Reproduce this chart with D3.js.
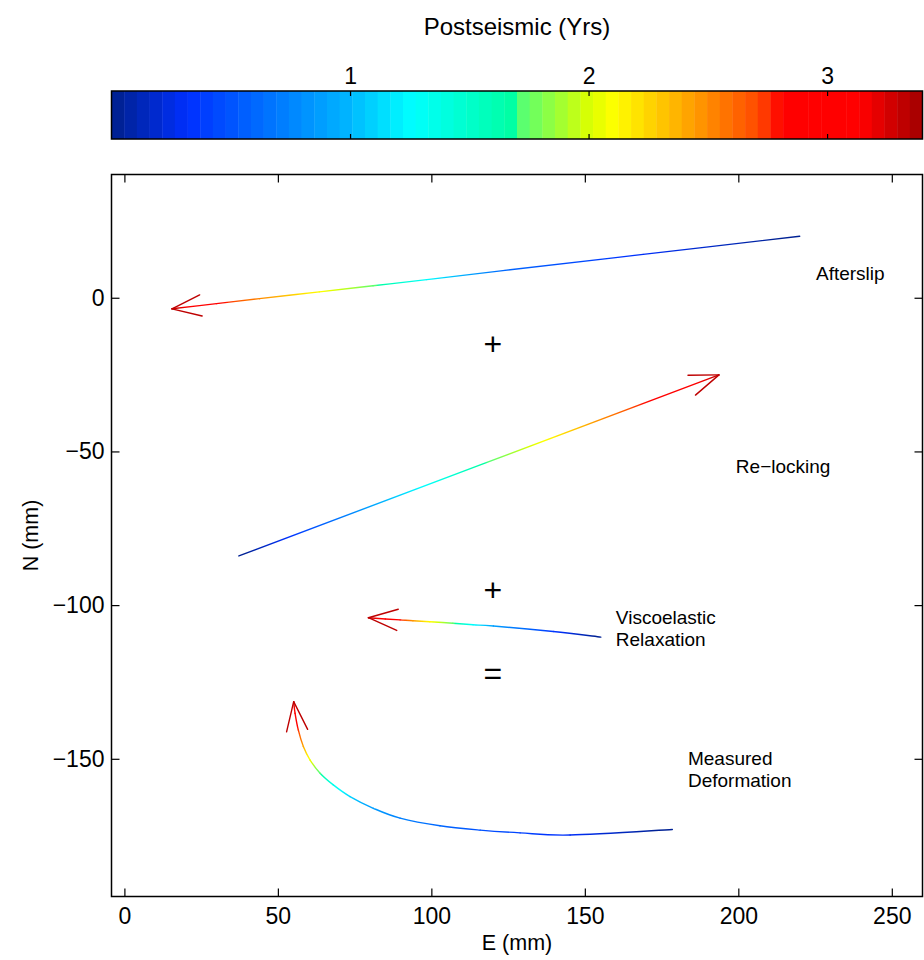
<!DOCTYPE html>
<html>
<head>
<meta charset="utf-8">
<script src="https://cdn.jsdelivr.net/npm/d3@7"></script>
<style>
  body { margin: 0; background: #fff; }
  text { font-family: "Liberation Sans", Arial, Helvetica, sans-serif; fill: #000; }
</style>
</head>
<body>
<div id="chart"></div>
<script>
// ---- data ----
const xTicks = [0, 50, 100, 150, 200, 250];
const yTicks = [0, -50, -100, -150];
const cbTicks = [1, 2, 3];

// each series: east (mm), north (mm), postseismic time (yrs)
const afterslipE = [220, 169, 124, 98.5, 81, 63.5, 44, 30, 15.5];
const afterslipN = [20, 14.1, 8.9, 5.9, 3.9, 1.9, -0.3, -1.9, -3.6];
const afterslipT = [0, 0.3, 0.6, 1.25, 1.75, 2.1, 2.5, 2.85, 3.3];

const relockE = [37.3, 193.7];
const relockN = [-84, -25.1];
const relockT = [0, 3.3];

const viscoE = [155.2, 139.7, 120.2, 113.6, 107, 99.5, 94, 89.8, 85, 79.5];
const viscoN = [-110.4, -108.6, -106.8, -106.4, -105.9, -105.4, -105.1, -104.8, -104.5, -104.1];
const viscoT = [0, 0.35, 0.9, 1.25, 1.75, 2.1, 2.45, 2.8, 3.05, 3.3];

const measuredE = [178.5, 145.2, 128.9, 115.9, 102.8, 89.8, 81.1, 73.5, 68.05, 63.75, 60.5, 58.3, 56.65, 55.6, 55.15];
const measuredN = [-173.0, -174.8, -174.1, -173.2, -171.8, -169.3, -166.1, -162.3, -158.5, -154.7, -150.4, -146.0, -140.6, -135.2, -131.4];
const measuredT = [0, 0.3, 0.4, 0.5, 0.6, 0.72, 0.85, 1.1, 1.35, 1.7, 2.05, 2.4, 2.75, 3.05, 3.3];

const noteLabels = [["Afterslip"], ["Re\u2212locking"], ["Viscoelastic", "Relaxation"], ["Measured", "Deformation"]];
const noteE = [225.3, 199.2, 160.1, 183.6];
const noteN = [8.1, -54.7, -107.4, -153.2];

const opLabels = ["+", "+", "="];
const opE = [120, 120, 120];
const opN = [-15, -95, -122];

const series = [
  { E: afterslipE, N: afterslipN, T: afterslipT },
  { E: relockE, N: relockN, T: relockT },
  { E: viscoE, N: viscoN, T: viscoT },
  { E: measuredE, N: measuredN, T: measuredT }
];

// jet-like colormap as seen on the colour bar
const cmapStops = [
  [0.000, "#00208c"], [0.095, "#0030ff"], [0.29, "#00b4ff"], [0.37, "#00ffff"],
  [0.499, "#00ffa0"], [0.501, "#50ff78"], [0.59, "#dcff00"], [0.62, "#ffff00"],
  [0.70, "#ffb000"], [0.80, "#ff4600"], [0.826, "#ff0000"], [0.925, "#ff0000"],
  [1.0, "#a00000"]
];

const width = 924, height = 960;
const svg = d3.select("#chart").append("svg")
  .attr("width", width).attr("height", height);

const x = d3.scaleLinear().domain([-4.2, 260]).range([111.5, 922.5]);
const y = d3.scaleLinear().domain([40.1, -194.8]).range([174.5, 896.5]);
const cb = d3.scaleLinear().domain([0, 3.4]).range([111.5, 922.5]);

const stopScale = d3.scaleLinear()
  .domain(cmapStops.map(d => d[0]))
  .range(cmapStops.map(d => d[1]))
  .interpolate(d3.interpolateRgb);
const nColors = 64;
const cells = d3.range(nColors).map(i => stopScale((i + 0.5) / nColors));
const colorOf = t => cells[Math.max(0, Math.min(nColors - 1, Math.floor(t / 3.4 * nColors)))];

// ---- title + colour bar ----
svg.append("text")
  .attr("x", 517).attr("y", 26)
  .attr("text-anchor", "middle").attr("dominant-baseline", "central")
  .style("font-size", "24px")
  .text("Postseismic (Yrs)");

const cbTop = 91, cbBot = 139;
svg.append("g").selectAll("rect")
  .data(d3.range(nColors))
  .enter().append("rect")
  .attr("x", i => cb(i * 3.4 / nColors))
  .attr("y", cbTop)
  .attr("width", i => cb((i + 1) * 3.4 / nColors) - cb(i * 3.4 / nColors) + 0.4)
  .attr("height", cbBot - cbTop)
  .attr("fill", i => cells[i]);

const cbAxisTop = svg.append("g")
  .attr("transform", `translate(0,${cbTop})`)
  .call(d3.axisTop(cb).tickValues(cbTicks).tickFormat(d3.format("d"))
    .tickSizeInner(-5).tickSizeOuter(0).tickPadding(7.5));
const cbAxisBot = svg.append("g")
  .attr("transform", `translate(0,${cbBot})`)
  .call(d3.axisBottom(cb).tickValues(cbTicks).tickFormat("").tickSizeInner(-5).tickSizeOuter(0));
[cbAxisTop, cbAxisBot].forEach(g => {
  g.select(".domain").remove();
  g.selectAll("line").attr("stroke", "#000").attr("stroke-width", 1.2);
  g.selectAll("text").style("font-size", "23px").attr("fill", "#000").style("font-family", null);
});

svg.append("rect")
  .attr("x", 111.5).attr("y", cbTop)
  .attr("width", 811).attr("height", cbBot - cbTop)
  .attr("fill", "none").attr("stroke", "#000").attr("stroke-width", 1.5);

// ---- main axes ----
const gx = svg.append("g")
  .attr("transform", "translate(0,896.5)")
  .call(d3.axisBottom(x).tickValues(xTicks).tickSizeInner(-8).tickSizeOuter(0).tickPadding(11));
const gxTop = svg.append("g")
  .attr("transform", "translate(0,174.5)")
  .call(d3.axisTop(x).tickValues(xTicks).tickFormat("").tickSizeInner(-8).tickSizeOuter(0));
const gy = svg.append("g")
  .attr("transform", "translate(111.5,0)")
  .call(d3.axisLeft(y).tickValues(yTicks).tickSizeInner(-8).tickSizeOuter(0).tickPadding(7));
const gyRight = svg.append("g")
  .attr("transform", "translate(922.5,0)")
  .call(d3.axisRight(y).tickValues(yTicks).tickFormat("").tickSizeInner(-8).tickSizeOuter(0));
[gx, gxTop, gy, gyRight].forEach(g => {
  g.select(".domain").remove();
  g.selectAll("line").attr("stroke", "#000").attr("stroke-width", 1.2);
  g.selectAll("text").style("font-size", "23px").attr("fill", "#000").style("font-family", null);
});

svg.append("rect")
  .attr("x", 111.5).attr("y", 174.5)
  .attr("width", 811).attr("height", 722)
  .attr("fill", "none").attr("stroke", "#000").attr("stroke-width", 1.5);

svg.append("text")
  .attr("x", 517).attr("y", 943)
  .attr("text-anchor", "middle").attr("dominant-baseline", "central")
  .style("font-size", "21.5px")
  .text("E (mm)");

svg.append("text")
  .attr("transform", "translate(31,535.5) rotate(-90)")
  .attr("text-anchor", "middle").attr("dominant-baseline", "central")
  .style("font-size", "21.5px")
  .text("N (mm)");

// ---- time-coloured paths (smooth Catmull-Rom pieces, one gradient each) ----
const defs = svg.append("defs");
const lineG = svg.append("g");
let gid = 0;

series.forEach(s => {
  const pts = s.E.map((e, i) => [x(e), y(s.N[i])]);
  const n = pts.length;
  for (let i = 0; i < n - 1; i++) {
    const p0 = pts[Math.max(0, i - 1)], p1 = pts[i], p2 = pts[i + 1], p3 = pts[Math.min(n - 1, i + 2)];
    const c1 = [p1[0] + (p2[0] - p0[0]) / 6, p1[1] + (p2[1] - p0[1]) / 6];
    const c2 = [p2[0] - (p3[0] - p1[0]) / 6, p2[1] - (p3[1] - p1[1]) / 6];
    const t1 = s.T[i], t2 = s.T[i + 1];
    const id = "seg" + (gid++);
    const grad = defs.append("linearGradient")
      .attr("id", id).attr("gradientUnits", "userSpaceOnUse")
      .attr("x1", p1[0]).attr("y1", p1[1]).attr("x2", p2[0]).attr("y2", p2[1]);
    const nStops = Math.max(2, Math.ceil(Math.abs(t2 - t1) / 3.4 * nColors * 2) + 1);
    d3.range(nStops).forEach(k => {
      const f = k / (nStops - 1);
      grad.append("stop").attr("offset", f).attr("stop-color", colorOf(t1 + (t2 - t1) * f));
    });
    lineG.append("path")
      .attr("d", `M${p1[0]},${p1[1]}C${c1[0]},${c1[1]} ${c2[0]},${c2[1]} ${p2[0]},${p2[1]}`)
      .attr("fill", "none")
      .attr("stroke", `url(#${id})`)
      .attr("stroke-width", 1.4)
      .attr("stroke-linecap", "round");
  }

  // arrow head at the last point
  const [tx, ty] = pts[n - 1];
  const [px, py] = pts[n - 2];
  const ang = Math.atan2(py - ty, px - tx);
  const len = 31, spread = 20 * Math.PI / 180;
  const headColor = colorOf(s.T[n - 1]);
  [ang - spread, ang + spread].forEach(a => {
    lineG.append("line")
      .attr("x1", tx).attr("y1", ty)
      .attr("x2", tx + len * Math.cos(a)).attr("y2", ty + len * Math.sin(a))
      .attr("stroke", headColor).attr("stroke-width", 1.4)
      .attr("stroke-linecap", "round");
  });
});

// ---- annotations ----
noteLabels.forEach((lines, i) => {
  const t = svg.append("text")
    .attr("x", x(noteE[i]))
    .attr("y", y(noteN[i]) - (lines.length - 1) * 11)
    .attr("dominant-baseline", "central")
    .style("font-size", "19px");
  lines.forEach((l, j) => {
    t.append("tspan")
      .attr("x", x(noteE[i]))
      .attr("dy", j === 0 ? 0 : 22)
      .text(l);
  });
});

svg.selectAll(".op")
  .data(opLabels)
  .enter().append("text")
  .attr("class", "op")
  .attr("x", (d, i) => x(opE[i]))
  .attr("y", (d, i) => y(opN[i]))
  .attr("text-anchor", "middle")
  .attr("dominant-baseline", "central")
  .style("font-size", "32px")
  .text(d => d);
</script>
</body>
</html>
